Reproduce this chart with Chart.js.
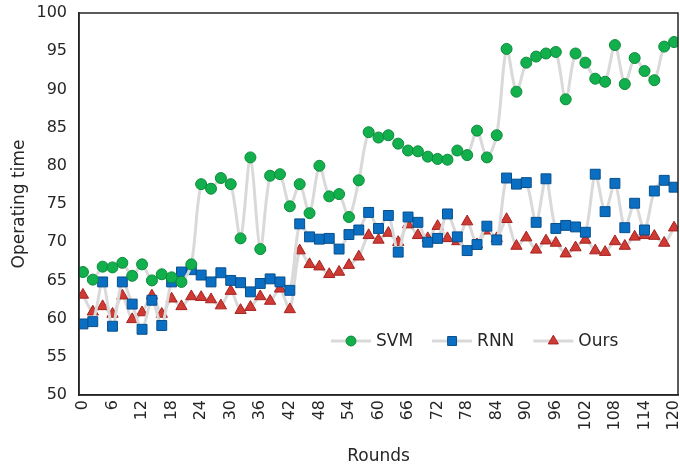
<!DOCTYPE html>
<html>
<head>
<meta charset="utf-8">
<script src="https://cdn.jsdelivr.net/npm/chart.js@4.4.0/dist/chart.umd.min.js"></script>
<style>
  html, body { margin: 0; padding: 0; background: #fff; }
  #wrap { width: 680px; height: 467px; }
</style>
</head>
<body>
<div id="wrap"><canvas id="chart" width="680" height="467"></canvas></div>
<script>
// Rounds (x values)
const rounds = [0, 2, 4, 6, 8, 10, 12, 14, 16, 18, 20, 22, 24, 26, 28, 30, 32, 34, 36, 38,
    40, 42, 44, 46, 48, 50, 52, 54, 56, 58, 60, 62, 64, 66, 68, 70, 72, 74, 76, 78,
    80, 82, 84, 86, 88, 90, 92, 94, 96, 98, 100, 102, 104, 106, 108, 110, 112, 114, 116, 118, 120];

const xTicks = [0, 6, 12, 18, 24, 30, 36, 42, 48, 54, 60, 66, 72, 78, 84, 90, 96, 102, 108, 114, 120];

const svm = [66.1, 65.1, 66.8, 66.7, 67.3, 65.6, 67.1, 65.0, 65.8, 65.4,
    64.8, 67.1, 77.6, 77.0, 78.4, 77.6, 70.5, 81.1, 69.1, 78.7,
    78.9, 74.7, 77.6, 73.8, 80.0, 76.0, 76.3, 73.3, 78.1, 84.4,
    83.7, 84.0, 82.9, 82.0, 81.9, 81.2, 80.9, 80.8, 82.0, 81.4,
    84.6, 81.1, 84.0, 95.3, 89.7, 93.5, 94.3, 94.7, 94.9, 88.7,
    94.7, 93.5, 91.4, 91.0, 95.8, 90.7, 94.1, 92.4, 91.2, 95.6, 96.2];

const rnn = [59.3, 59.6, 64.8, 59.0, 64.8, 61.9, 58.6, 62.4, 59.1, 64.8,
    66.1, 66.4, 65.7, 64.8, 66.0, 65.0, 64.7, 63.5, 64.6, 65.2,
    64.8, 63.7, 72.4, 70.7, 70.4, 70.5, 69.1, 71.0, 71.6, 73.9,
    71.8, 73.5, 68.7, 73.3, 72.6, 70.0, 70.5, 73.7, 70.7, 68.9,
    69.7, 72.1, 70.3, 78.4, 77.6, 77.8, 72.6, 78.3, 71.8, 72.2,
    72.0, 71.3, 78.9, 74.0, 77.7, 71.9, 75.1, 71.6, 76.7, 78.1, 77.2];

const ours = [63.1, 60.9, 61.6, 60.6, 63.0, 59.9, 60.8, 63.0, 60.6, 62.6,
    61.6, 62.9, 62.8, 62.5, 61.7, 63.6, 61.1, 61.5, 62.9, 62.3,
    63.9, 61.2, 68.9, 67.1, 66.8, 65.8, 66.1, 67.0, 68.1, 70.9,
    70.3, 71.2, 70.0, 72.3, 70.9, 70.5, 72.1, 70.5, 70.1, 72.7,
    69.7, 71.5, 70.5, 73.0, 69.5, 70.6, 69.0, 70.2, 69.9, 68.5,
    69.3, 70.3, 68.9, 68.7, 70.1, 69.5, 70.7, 70.9, 70.8, 69.9, 71.9];

const FONT = "'DejaVu Sans', Verdana, sans-serif";
const TEXT = '#262626';
const LINE = '#d9d9d9';

function series(label, values, color, edge, style, radius) {
    return {
        label: label,
        data: rounds.map((r, i) => ({ x: r, y: values[i] })),
        borderColor: LINE,
        borderWidth: 3,
        tension: 0.3,
        pointStyle: style,
        pointRadius: radius,
        pointHoverRadius: radius,
        pointBackgroundColor: color,
        pointBorderColor: edge,
        pointBorderWidth: 1
    };
}

// frame around plot area + legend inside the plot
const framePlugin = {
    id: 'frame',
    afterDraw(chart) {
        const ctx = chart.ctx;
        const a = chart.chartArea;
        ctx.save();
        ctx.strokeStyle = TEXT;
        ctx.lineWidth = 1.5;
        ctx.beginPath();
        ctx.moveTo(a.left, a.top);
        ctx.lineTo(a.right, a.top);
        ctx.lineTo(a.right, a.bottom);
        ctx.lineTo(a.left, a.bottom);
        ctx.closePath();
        ctx.stroke();

        // legend
        let x = a.right - 347;
        const y = a.top + 328;
        ctx.font = '17px ' + FONT;
        ctx.textBaseline = 'middle';
        chart.data.datasets.forEach(ds => {
            ctx.strokeStyle = LINE;
            ctx.lineWidth = 3;
            ctx.beginPath();
            ctx.moveTo(x, y);
            ctx.lineTo(x + 40, y);
            ctx.stroke();
            ctx.fillStyle = ds.pointBackgroundColor;
            ctx.strokeStyle = ds.pointBorderColor;
            ctx.lineWidth = 1;
            Chart.helpers.drawPoint(ctx, {
                pointStyle: ds.pointStyle,
                radius: ds.pointRadius * 0.9,
                rotation: 0,
                borderWidth: 1
            }, x + 20, y);
            ctx.fillStyle = TEXT;
            ctx.fillText(ds.label, x + 45, y + 1);
            x += 45 + ctx.measureText(ds.label).width + 19;
        });
        ctx.restore();
    }
};

new Chart(document.getElementById('chart'), {
    type: 'line',
    data: {
        datasets: [
            series('SVM', svm, '#12b04c', '#0a8a39', 'circle', 5.5),
            series('RNN', rnn, '#0a6fc2', '#074f8c', 'rect', 7),
            series('Ours', ours, '#d03a35', '#a5221e', 'triangle', 6.5)
        ]
    },
    options: {
        responsive: false,
        animation: false,
        layout: { autoPadding: false, padding: { top: 13, right: 2, left: 0, bottom: 0 } },
        plugins: {
            legend: { display: false },
            tooltip: { enabled: false }
        },
        scales: {
            x: {
                type: 'linear',
                min: -0.8,
                max: 120.8,
                grid: { display: false, drawTicks: false },
                border: { display: true, color: TEXT, width: 1.5 },
                ticks: {
                    minRotation: 90,
                    maxRotation: 90,
                    padding: 5,
                    color: TEXT,
                    font: { family: FONT, size: 16 }
                },
                afterBuildTicks(scale) {
                    scale.ticks = xTicks.map(v => ({ value: v }));
                },
                title: {
                    display: true,
                    text: 'Rounds',
                    color: TEXT,
                    font: { family: FONT, size: 17 },
                    padding: { top: 0, bottom: 0 }
                },
                afterFit(scale) {
                    scale.height = 72;
                    scale.paddingLeft = 0;
                    scale.paddingRight = 0;
                }
            },
            y: {
                min: 50,
                max: 100,
                grid: { display: false, drawTicks: false },
                border: { display: true, color: TEXT, width: 1.5 },
                ticks: {
                    stepSize: 5,
                    padding: 12,
                    color: TEXT,
                    font: { family: FONT, size: 16 }
                },
                title: {
                    display: true,
                    text: 'Operating time',
                    color: TEXT,
                    font: { family: FONT, size: 17 },
                    padding: { top: 9, bottom: 0 }
                },
                afterFit(scale) {
                    scale.width = 79;
                    scale.paddingTop = 0;
                    scale.paddingBottom = 0;
                }
            }
        }
    },
    plugins: [framePlugin]
});
</script>
</body>
</html>
